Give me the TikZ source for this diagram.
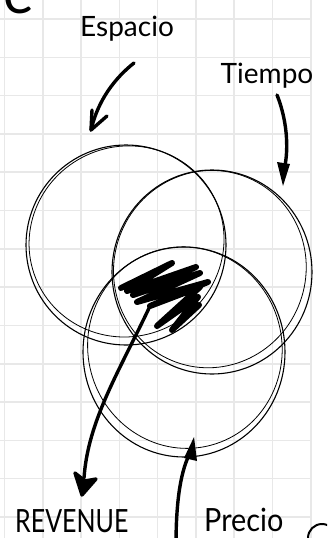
\documentclass[tikz,border=0pt]{standalone}
\usepackage{fontspec}
\setmainfont{Lato}
\usetikzlibrary{calc}
\begin{document}
\begin{tikzpicture}[x=1pt,y=-1pt,
  gridline/.style={draw=black!9, line width=1.6pt},
  ring/.style={draw=black, line width=1.1pt},
  ringb/.style={draw=black, line width=0.8pt},
  pointer/.style={draw=black, line width=3.4pt, line cap=round, line join=round},
  scrib/.style={draw=black, line width=6pt, line cap=round, line join=round},
  lbl/.style={inner sep=0pt, font=\fontsize{28}{28}\selectfont},
  biglbl/.style={inner sep=0pt, text depth=0pt, font=\fontsize{32}{32}\selectfont}]
\useasboundingbox (0,0) rectangle (327,538);
\clip (0,0) rectangle (327,538);
\fill[white] (0,0) rectangle (327,538);
% grid
\foreach \gx in {4.4,42.7,81,119.3,157.6,195.9,234.2,272.5,310.8}
  \draw[gridline] (\gx,0) -- (\gx,538);
\foreach \gy in {19,57.3,95.6,133.9,172.2,210.5,248.8,287.1,325.4,363.7,402,440.3,478.6,516.9}
  \draw[gridline] (0,\gy) -- (310.8,\gy);
% partial title
\node[anchor=base east, inner sep=0pt, font=\fontsize{58}{58}\selectfont] (ttl) at (34,13) {ue};
% circles
\coordinate (cE) at (126,245);
\coordinate (cT) at (212,272);
\coordinate (cP) at (184,352);
\draw[ring] (cE) ellipse [x radius=100pt, y radius=100pt];
\draw[ringb, rotate around={25:(cE)}] ($(cE)+(2,-3)$) ellipse [x radius=98pt, y radius=95pt];
\draw[ring] (cT) ellipse [x radius=100pt, y radius=102pt];
\draw[ringb, rotate around={-20:(cT)}] ($(cT)+(-3,-2)$) ellipse [x radius=96pt, y radius=99pt];
\draw[ring] (cP) ellipse [x radius=101pt, y radius=105pt];
\draw[ringb, rotate around={15:(cP)}] ($(cP)+(2,-4)$) ellipse [x radius=97pt, y radius=101pt];
% scribble
\draw[scrib] (121,288) -- (172,263) -- (127,291) -- (196,267) -- (133,295) -- (200,273)
  -- (137,302) -- (208,282) -- (150,306) -- (200,287) -- (157,326) -- (198,297)
  -- (172,330) -- (199,305);
\coordinate (scr) at (150,306);
% labels
\node[lbl] (esp) at (127,29) {Espacio};
\node[lbl] (tie) at (267,76) {Tiempo};
\node[biglbl, anchor=north west] (rev) at (15,509) {\scalebox{0.78}[1]{REVENUE}};
\node[biglbl, anchor=north west] (pre) at (204,508) {\scalebox{0.9}[1]{Precio}};
% arrows
\coordinate (espS) at (134,63);
\coordinate (espT) at (91,130);
\draw[pointer] (espS) .. controls (115,78) and (98,100) .. (espT);
\draw[pointer] (92,110) -- (espT) -- (107,116);
\coordinate (tieS) at (277,95);
\coordinate (tieT) at (283,186);
\draw[pointer] (tieS) .. controls (289,125) and (288,155) .. (284,170);
\fill (tieT) -- (277,162) -- (290,164) -- cycle;
\coordinate (revT) at (82,495);
\draw[pointer] (scr) .. controls (120,370) and (88,420) .. (84,478);
\draw[pointer, fill=black] (75,473) -- (revT) -- (96,479) -- (85,481) -- cycle;
\coordinate (preS) at (176,545);
\coordinate (preT) at (194,437);
\draw[pointer] (preS) .. controls (176,495) and (182,470) .. (189,455);
\fill (preT) -- (184,458) -- (197,461) -- cycle;
% corner mark
\draw[line width=2pt] (322,538) circle [radius=14pt];
\end{tikzpicture}
\end{document}
